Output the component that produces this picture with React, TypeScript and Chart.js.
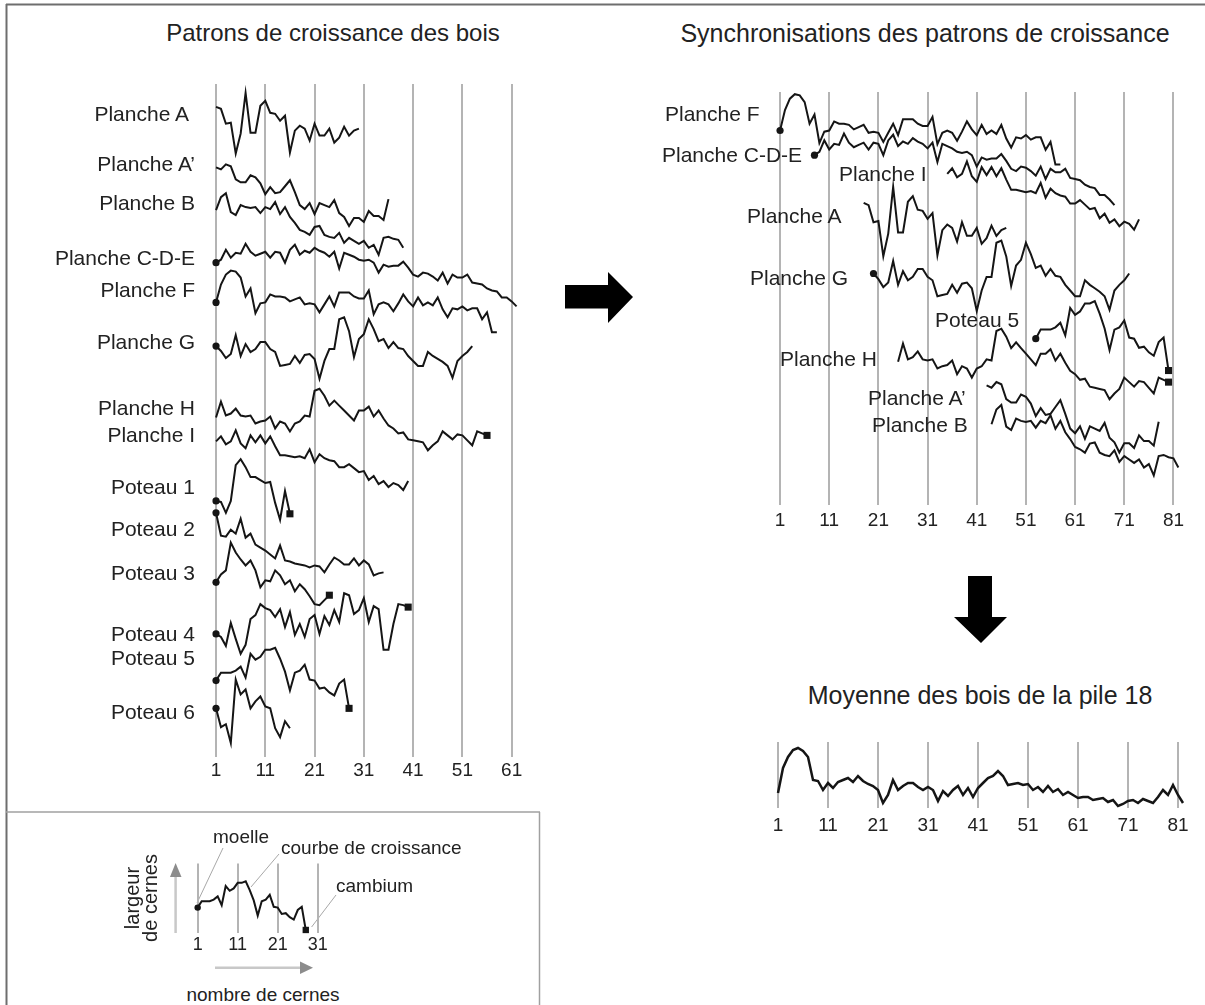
import React, { useEffect, useRef } from "react";
import { Chart, registerables } from "chart.js";

Chart.register(...registerables);

const FONT = '"Liberation Sans", Arial, Helvetica, sans-serif';
const INK = "#151515";
const GRID = "#b4b4b4";

// Ring widths (relative units), pith -> bark
const plancheA = [52, 50, 35, 36, 5, 25, 66, 26, 26, 53, 58, 46, 45, 38, 43, 6, 28, 33, 30, 18, 35, 23, 23, 30, 16, 21, 32, 23, 28, 30];
const plancheAPrime = [64, 62, 67, 65, 52, 49, 49, 56, 54, 48, 37, 44, 38, 39, 45, 51, 39, 26, 22, 28, 17, 28, 26, 24, 31, 18, 14, 5, 13, 13, 9, 20, 15, 15, 11, 32];
const plancheB = [50, 63, 67, 48, 45, 55, 53, 52, 53, 47, 53, 51, 58, 46, 53, 43, 37, 30, 28, 25, 33, 34, 25, 23, 22, 27, 17, 22, 19, 16, 19, 12, 15, 5, 22, 23, 21, 20, 12];
const plancheCDE = [49, 52, 62, 54, 59, 58, 68, 60, 56, 58, 60, 54, 60, 59, 49, 62, 67, 57, 61, 59, 64, 61, 59, 55, 60, 43, 59, 57, 55, 52, 51, 52, 49, 39, 47, 45, 46, 46, 50, 44, 37, 35, 39, 38, 35, 31, 39, 28, 37, 34, 34, 37, 29, 28, 27, 23, 21, 20, 14, 14, 10, 5];
const plancheF = [35, 53, 63, 67, 66, 60, 41, 49, 24, 34, 35, 43, 41, 41, 40, 36, 38, 40, 33, 34, 33, 25, 33, 41, 31, 45, 45, 45, 41, 39, 39, 47, 23, 33, 35, 33, 26, 34, 43, 36, 31, 40, 32, 35, 32, 40, 28, 20, 29, 28, 31, 27, 29, 29, 18, 25, 5, 5];
const plancheG = [38, 33, 26, 30, 49, 28, 40, 32, 35, 42, 42, 35, 32, 18, 19, 20, 28, 21, 29, 30, 25, 5, 23, 35, 35, 65, 67, 53, 27, 45, 50, 65, 55, 43, 45, 36, 42, 36, 35, 28, 23, 18, 18, 32, 28, 25, 22, 18, 6, 23, 28, 32, 38];
const plancheH = [38, 54, 40, 42, 47, 40, 39, 40, 32, 34, 35, 39, 27, 34, 32, 24, 32, 34, 40, 39, 65, 67, 60, 50, 55, 50, 45, 40, 35, 45, 45, 49, 39, 45, 37, 30, 27, 22, 23, 16, 15, 14, 13, 5, 10, 14, 24, 20, 16, 21, 20, 15, 10, 24, 22, 20];
const plancheI = [54, 59, 51, 54, 65, 52, 47, 60, 53, 60, 52, 59, 49, 40, 40, 39, 38, 39, 37, 46, 33, 41, 37, 35, 34, 28, 28, 31, 27, 23, 24, 15, 19, 11, 14, 8, 12, 10, 5, 14];
const poteau1 = [24, 23, 12, 24, 60, 66, 58, 48, 48, 45, 42, 43, 22, 5, 34, 11];
const poteau2 = [68, 45, 44, 51, 47, 62, 43, 47, 36, 33, 30, 26, 22, 35, 20, 19, 17, 16, 15, 13, 15, 14, 8, 16, 23, 20, 16, 16, 22, 15, 20, 16, 5, 7, 8];
const poteau3 = [28, 36, 40, 68, 58, 51, 45, 50, 40, 23, 30, 29, 40, 35, 26, 30, 19, 26, 21, 14, 6, 5, 10, 15];
const poteau4 = [25, 22, 13, 36, 20, 5, 14, 40, 44, 55, 51, 49, 42, 50, 32, 47, 24, 35, 22, 40, 44, 25, 43, 34, 49, 37, 66, 64, 45, 49, 61, 37, 53, 50, 9, 9, 35, 55, 54, 52];
const poteau5 = [33, 41, 41, 41, 43, 47, 36, 60, 54, 57, 64, 64, 66, 55, 42, 23, 41, 43, 49, 34, 33, 25, 26, 21, 18, 30, 34, 5];
const poteau6 = [40, 21, 24, 5, 69, 54, 59, 40, 47, 52, 42, 40, 20, 11, 27, 20];
const moyenne = [17, 42, 53, 60, 62, 59, 53, 30, 29, 20, 27, 22, 28, 30, 32, 28, 34, 29, 26, 24, 20, 7, 15, 30, 20, 24, 27, 27, 23, 20, 23, 20, 9, 19, 14, 20, 24, 15, 22, 13, 22, 27, 32, 34, 39, 34, 25, 26, 27, 25, 26, 20, 23, 18, 24, 18, 21, 15, 18, 15, 12, 13, 13, 10, 11, 12, 8, 10, 4, 6, 9, 10, 7, 11, 9, 7, 13, 20, 15, 25, 15, 7];

const LEFT_TICKS = [1, 11, 21, 31, 41, 51, 61];
const RIGHT_TICKS = [1, 11, 21, 31, 41, 51, 61, 71, 81];
const LEGEND_TICKS = [1, 11, 21, 31];

type Series = { label: string; values: number[]; pith: boolean; bark: boolean };

const S: Record<string, Series> = {
  A: { label: "Planche A", values: plancheA, pith: false, bark: false },
  AP: { label: "Planche A\u2019", values: plancheAPrime, pith: false, bark: false },
  B: { label: "Planche B", values: plancheB, pith: false, bark: false },
  CDE: { label: "Planche C-D-E", values: plancheCDE, pith: true, bark: false },
  F: { label: "Planche F", values: plancheF, pith: true, bark: false },
  G: { label: "Planche G", values: plancheG, pith: true, bark: false },
  H: { label: "Planche H", values: plancheH, pith: false, bark: true },
  I: { label: "Planche I", values: plancheI, pith: false, bark: false },
  P1: { label: "Poteau 1", values: poteau1, pith: true, bark: true },
  P2: { label: "Poteau 2", values: poteau2, pith: true, bark: false },
  P3: { label: "Poteau 3", values: poteau3, pith: true, bark: true },
  P4: { label: "Poteau 4", values: poteau4, pith: true, bark: true },
  P5: { label: "Poteau 5", values: poteau5, pith: true, bark: true },
  P6: { label: "Poteau 6", values: poteau6, pith: true, bark: false },
};

// left panel: vertical stacking offsets and label rows
const LEFT_KEYS = ["A", "AP", "B", "CDE", "F", "G", "H", "I", "P1", "P2", "P3", "P4", "P5", "P6"];
const LEFT_BASE = [603, 530, 501, 449, 423, 376, 304, 264, 234, 178, 148, 99, 44, 9];
const LEFT_LABEL_Y = [113, 163, 202, 257, 289, 341, 407, 434, 486, 528, 572, 633, 657, 711];
const LEFT_LABEL_RIGHT = [189, 195, 195, 195, 195, 195, 195, 195, 195, 195, 195, 195, 195, 195];

// right panel: synchronised start ring and stacking offsets
const RIGHT_KEYS = ["F", "CDE", "I", "A", "G", "P5", "H", "AP", "B"];
const RIGHT_START = [1, 8, 35, 18, 20, 53, 25, 43, 44];
const RIGHT_BASE = [275.4, 239.7, 218.2, 194.7, 146.6, 94.2, 69, 22.1, 1.9];
const RIGHT_LABEL_X = [665, 662, 839, 747, 750, 935, 780, 868, 872];
const RIGHT_LABEL_Y = [113, 154, 173, 215, 277, 319, 358, 397, 424];

function dataset(s: Series, start: number, base: number, dot = 3.6, sq = 5) {
  const n = s.values.length;
  return {
    data: s.values.map((v, i) => ({ x: start + i, y: base + v })),
    borderColor: INK,
    borderWidth: 2,
    tension: 0,
    pointRadius: s.values.map((_, i) => (i === 0 && s.pith ? dot : i === n - 1 && s.bark ? sq : 0)),
    pointStyle: s.values.map((_, i) => (i === 0 ? "circle" : "rect")),
    pointBackgroundColor: INK,
    pointBorderColor: INK,
    pointBorderWidth: 0,
    pointHoverRadius: 0,
    clip: false as any,
  };
}

// draws the ring-number labels under the plot area at a fixed distance
const tickLabelPlugin = {
  id: "tickLabels",
  afterDraw(chart: any, _args: any, opts: any) {
    const { ctx, chartArea, scales } = chart;
    ctx.save();
    ctx.font = `${opts.size}px ${FONT}`;
    ctx.fillStyle = "#222";
    ctx.textAlign = "center";
    ctx.textBaseline = "middle";
    (opts.ticks as number[]).forEach((v) => {
      ctx.fillText(String(v), scales.x.getPixelForValue(v), chartArea.bottom + opts.offset);
    });
    ctx.restore();
  },
};

type ChartProps = {
  left: number; top: number; width: number; height: number; labelSpace: number;
  xMin: number; xMax: number; yMax: number; yMin?: number;
  ticks: number[]; tickSize: number; tickOffset: number; datasets: any[];
};

function LineChart(p: ChartProps) {
  const ref = useRef<HTMLCanvasElement>(null);
  useEffect(() => {
    const chart = new Chart(ref.current as HTMLCanvasElement, {
      type: "line",
      data: { datasets: p.datasets },
      plugins: [tickLabelPlugin],
      options: {
        animation: false,
        responsive: false,
        events: [],
        layout: { padding: { top: 0, left: 0, right: 0, bottom: p.labelSpace } },
        plugins: {
          legend: { display: false },
          tooltip: { enabled: false },
          title: { display: false },
          tickLabels: { ticks: p.ticks, size: p.tickSize, offset: p.tickOffset },
        },
        scales: {
          x: {
            type: "linear",
            min: p.xMin,
            max: p.xMax,
            afterBuildTicks: (ax: any) => {
              ax.ticks = p.ticks.map((v) => ({ value: v }));
            },
            grid: { color: GRID, lineWidth: 2, drawTicks: false },
            border: { display: false },
            ticks: { display: false },
          },
          y: { type: "linear", min: p.yMin ?? 0, max: p.yMax, display: false },
        },
      } as any,
    });
    return () => chart.destroy();
  }, []);
  return (
    <canvas
      ref={ref}
      width={p.width}
      height={p.height}
      style={{ position: "absolute", left: p.left, top: p.top, width: p.width, height: p.height }}
    />
  );
}

function Label(props: { text: string; x: number; y: number; size: number; align?: "left" | "right" | "center" }) {
  const { text, x, y, size, align = "left" } = props;
  const w = 500;
  const left = align === "left" ? x : align === "right" ? x - w : x - w / 2;
  return (
    <div
      style={{
        position: "absolute",
        left,
        top: y - 0.589 * size,
        width: w,
        textAlign: align,
        fontFamily: FONT,
        fontSize: size,
        lineHeight: `${1.2 * size}px`,
        color: "#222",
        whiteSpace: "nowrap",
      }}
    >
      {text}
    </div>
  );
}

export default function App() {
  const leftSets = LEFT_KEYS.map((k, i) => dataset(S[k], 1, LEFT_BASE[i]));
  const rightSets = RIGHT_KEYS.map((k, i) => dataset(S[k], RIGHT_START[i], RIGHT_BASE[i]));
  const meanSet = dataset({ label: "Moyenne", values: moyenne, pith: false, bark: false }, 1, 0);
  meanSet.borderWidth = 2.5;
  const legendSet = dataset(S.P5, 1, -1.2, 3.2, 4.5);

  return (
    <div style={{ position: "absolute", left: 0, top: 0, width: 1205, height: 1005, background: "#fff", overflow: "hidden" }}>
      <svg width={1205} height={1005} style={{ position: "absolute", left: 0, top: 0 }}>
        <line x1={6} y1={4.5} x2={1205} y2={4.5} stroke="#6e6e6e" strokeWidth={2} />
        <line x1={6.5} y1={4} x2={6.5} y2={1005} stroke="#6e6e6e" strokeWidth={2} />
        <line x1={6} y1={812} x2={540} y2={812} stroke="#a0a0a0" strokeWidth={1.5} />
        <line x1={539.5} y1={812} x2={539.5} y2={1005} stroke="#a0a0a0" strokeWidth={1.5} />
        <polygon points="565,285 608,285 608,272 633,297 608,323 608,308.5 565,308.5" fill="#000" />
        <polygon points="968,576 992,576 992,617 1007,617 981,643 954,617 968,617" fill="#000" />
        {/* legend guides */}
        <line x1={175.6} y1={933} x2={175.6} y2={876} stroke="#c8c8c8" strokeWidth={2.5} />
        <polygon points="170,877 181.5,877 175.6,863" fill="#8c8c8c" />
        <line x1={215} y1={967.7} x2={301} y2={967.7} stroke="#c8c8c8" strokeWidth={2.5} />
        <polygon points="300,961.5 300,974 313,967.7" fill="#8c8c8c" />
        <line x1={197} y1={903} x2={223} y2={848} stroke="#a8a8a8" strokeWidth={1} />
        <line x1={251} y1={887} x2={279} y2={854} stroke="#a8a8a8" strokeWidth={1} />
        <line x1={311.6} y1={927} x2={336} y2={895} stroke="#a8a8a8" strokeWidth={1} />
      </svg>

      <LineChart left={0} top={79} width={540} height={708} labelSpace={30} xMin={-41.83} xMax={65.74} yMax={678}
        ticks={LEFT_TICKS} tickSize={19} tickOffset={14} datasets={leftSets} />
      <LineChart left={600} top={87} width={605} height={448} labelSpace={30} xMin={-34.6} xMax={86.4} yMin={-19.13} yMax={344.3}
        ticks={RIGHT_TICKS} tickSize={19} tickOffset={16} datasets={rightSets} />
      <LineChart left={600} top={742} width={605} height={96} labelSpace={30} xMin={-34.6} xMax={86.4} yMin={2} yMax={68}
        ticks={RIGHT_TICKS} tickSize={19} tickOffset={18} datasets={[meanSet]} />
      <LineChart left={150} top={859} width={200} height={100} labelSpace={26} xMin={-9.78} xMax={37.92} yMax={87}
        ticks={LEGEND_TICKS} tickSize={18} tickOffset={12} datasets={[legendSet]} />

      <Label text="Patrons de croissance des bois" x={333} y={33} size={24} align="center" />
      <Label text="Synchronisations des patrons de croissance" x={925} y={33} size={25} align="center" />
      <Label text="Moyenne des bois de la pile 18" x={980} y={695} size={25} align="center" />

      {LEFT_KEYS.map((k, i) => (
        <Label key={"l" + k} text={S[k].label} x={LEFT_LABEL_RIGHT[i]} y={LEFT_LABEL_Y[i]} size={21} align="right" />
      ))}
      {RIGHT_KEYS.map((k, i) => (
        <Label key={"r" + k} text={S[k].label} x={RIGHT_LABEL_X[i]} y={RIGHT_LABEL_Y[i]} size={21} />
      ))}

      <Label text="moelle" x={213} y={837} size={19} />
      <Label text="courbe de croissance" x={281} y={848} size={19} />
      <Label text="cambium" x={336} y={886} size={19} />
      <Label text="nombre de cernes" x={263} y={995} size={19} align="center" />
      <div
        style={{
          position: "absolute",
          left: 141 - 60,
          top: 898 - 18,
          width: 120,
          height: 36,
          textAlign: "center",
          fontFamily: FONT,
          fontSize: 20,
          lineHeight: "18px",
          color: "#222",
          transform: "rotate(-90deg)",
          whiteSpace: "nowrap",
        }}
      >
        largeur
        <br />
        de cernes
      </div>
    </div>
  );
}
